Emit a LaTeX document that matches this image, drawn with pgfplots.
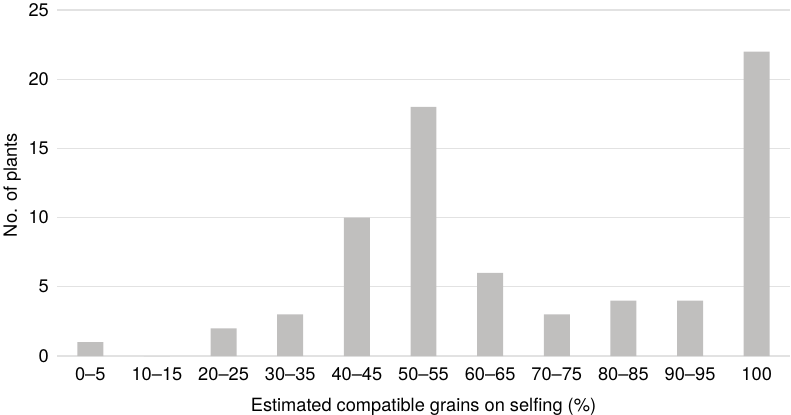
\documentclass[border=0pt]{standalone}
\usepackage{fontspec}
\setmainfont{TeX Gyre Heros}
\usepackage{pgfplots}
\pgfplotsset{compat=1.18}
\definecolor{barc}{HTML}{C0BFBE}
\definecolor{gridc}{HTML}{E2E2E2}
\begin{document}
\fontsize{18.3}{22}\selectfont
\begin{tikzpicture}[font=\fontsize{18.3}{22}\selectfont]
\begin{axis}[
  at={(0,0)}, anchor=south west,
  scale only axis, width=733bp, height=346bp,
  xmin=-0.5, xmax=10.5, ymin=0, ymax=25,
  ytick={0,5,10,15,20,25},
  xtick={0,...,10},
  xticklabels={0--5,10--15,20--25,30--35,40--45,50--55,60--65,70--75,80--85,90--95,100},
  axis line style={draw=none},
  ymajorgrids, grid style={gridc, line width=1.2bp},
  major tick length=0pt,
  /pgf/number format/assume math mode=true,
  tick label style={font=\fontsize{18.3}{22}\selectfont},
  label style={font=\fontsize{19}{23}\selectfont},
  yticklabel style={inner sep=0pt, anchor=east, xshift=-8bp},
  xticklabel style={inner sep=0pt, anchor=north, yshift=-11bp},
  xlabel={Estimated compatible grains on selfing (\%)},
  ylabel={No. of plants},
  every axis x label/.style={at={(axis description cs:0.5,0)}, anchor=base, yshift=-55bp},
  every axis y label/.style={at={(axis description cs:0,0.5)}, xshift=-40bp, yshift=-2bp, rotate=90, anchor=base},
]
\addplot[ybar, bar width=0.39, fill=barc, draw=none] coordinates {
(0,1) (1,0) (2,2) (3,3) (4,10) (5,18) (6,6) (7,3) (8,4) (9,4) (10,22)};
\end{axis}
\pgfresetboundingbox
\path (-57bp,-59bp) rectangle (734bp,356bp);
\end{tikzpicture}
\end{document}
